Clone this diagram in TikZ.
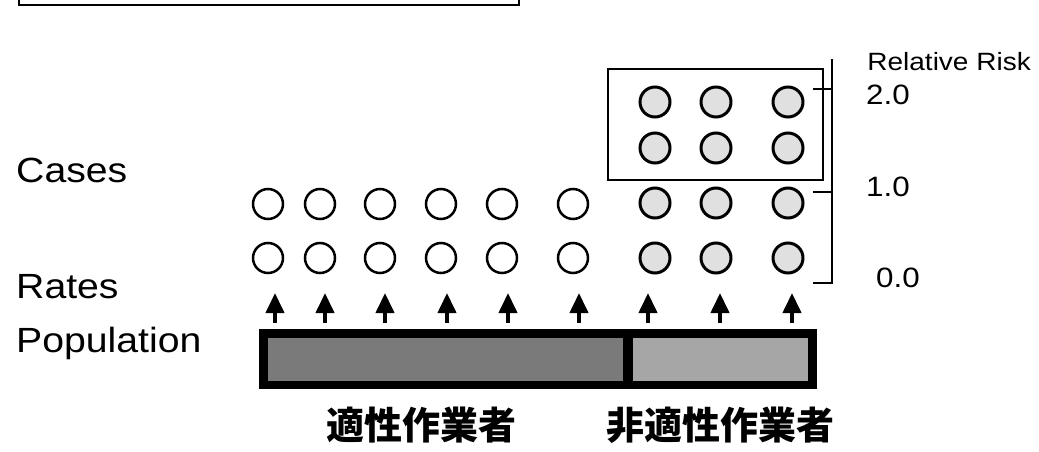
\documentclass[tikz,border=0pt]{standalone}
\usepackage{fontspec}
\setmainfont{Liberation Sans}
\newfontfamily\lab[FakeStretch=1.12]{Liberation Sans}
\newfontfamily\cjk{Noto Sans CJK JP}
\usetikzlibrary{arrows.meta}
\begin{document}
\begin{tikzpicture}[x=1pt,y=-1pt,
  circ/.style={circle, draw, line width=2.5pt, minimum size=30pt, inner sep=0pt},
  hcirc/.style={circ, fill=black!12, line width=3pt},
  uparrow/.style={-{Triangle[width=18pt,length=20pt]}, line width=4pt},
  axisline/.style={line width=2.5pt},
  rowlab/.style={anchor=base west, inner sep=0pt, font=\lab\fontsize{35pt}{37pt}\selectfont},
  ticklab/.style={anchor=west, inner sep=0pt, font=\lab\fontsize{28pt}{30pt}\selectfont},
  grouplab/.style={anchor=west, inner sep=0pt, font=\cjk\bfseries\fontsize{38pt}{40pt}\selectfont}]
\useasboundingbox (0,0) rectangle (1039,452);

% partial box at the top
\draw[line width=2pt] (19,-3) -- (19,5) -- (519,5) -- (519,-3);

% row labels
\node[rowlab] (cases) at (16,182) {Cases};
\node[rowlab] (rates) at (16,298) {Rates};
\node[rowlab] (popl) at (16,352) {Population};

% relative risk axis
\node[anchor=east, inner sep=0pt, font=\lab\fontsize{25pt}{27pt}\selectfont] (rr) at (1031,62) {Relative Risk};
\draw[axisline] (813,283) -- (832,283) -- (832,59);
\draw[axisline] (813,89) -- (832,89);
\draw[axisline] (813,192) -- (832,192);
\node[ticklab] (t2) at (866,95) {2.0};
\node[ticklab] (t1) at (866,187) {1.0};
\node[ticklab] (t0) at (876,278) {0.0};

% box around the excess cases
\node[draw, line width=1.5pt, minimum width=215pt, minimum height=111pt, inner sep=0pt] (riskbox) at (715.5,124.5) {};

% circles, fit group
\foreach \x [count=\i] in {268,320,380,441,502,573} {
  \node[circ] (u\i a) at (\x,204) {};
  \node[circ] (u\i b) at (\x,258) {};
}
% circles, non-fit group
\foreach \x [count=\i] in {655,716,788} {
  \node[hcirc] (e\i a) at (\x,102) {};
  \node[hcirc] (e\i b) at (\x,148) {};
  \node[hcirc] (e\i c) at (\x,203) {};
  \node[hcirc] (e\i d) at (\x,258) {};
}

% population bar
\node[fill=black, minimum width=558pt, minimum height=60pt, inner sep=0pt] (pop) at (538,359) {};
\node[fill=black!52, minimum width=355pt, minimum height=43pt, inner sep=0pt] (popfit) at (445.5,359.5) {};
\node[fill=black!35, minimum width=175pt, minimum height=43pt, inner sep=0pt] (popnon) at (720.5,359.5) {};

% arrows
\foreach \x [count=\i] in {275,325,385,447,508,579,648,720,792} {
  \coordinate (ab\i) at (\x,323);
  \coordinate (at\i) at (\x,293);
  \draw[uparrow] (ab\i) -- (at\i);
}

% group labels
\node[grouplab] (fit) at (326,425) {適性作業者};
\node[grouplab] (nonfit) at (606,425) {非適性作業者};
\end{tikzpicture}
\end{document}
